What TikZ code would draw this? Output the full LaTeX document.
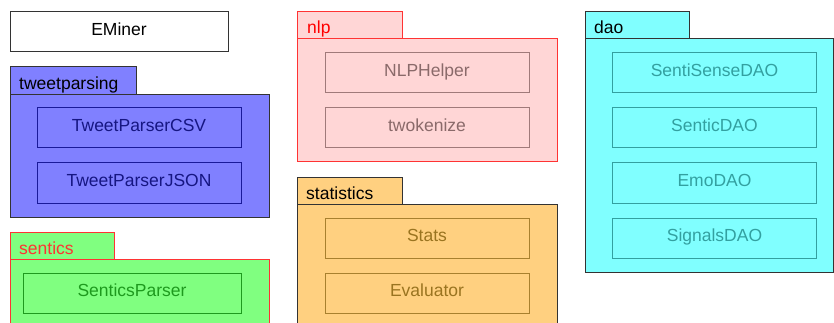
\documentclass[tikz,border=0pt]{standalone}
\usepackage{fontspec}
\setmainfont{Liberation Sans}
\definecolor{blueFill}{HTML}{8080FF}
\definecolor{blueIn}{HTML}{1A1A99}
\definecolor{greenFill}{HTML}{80FF80}
\definecolor{greenIn}{HTML}{1E9A1E}
\definecolor{pinkFill}{HTML}{FFD6D6}
\definecolor{pinkIn}{HTML}{A07A7A}
\definecolor{pinkTxt}{HTML}{8A6A6A}
\definecolor{orFill}{HTML}{FFD080}
\definecolor{orIn}{HTML}{A8802E}
\definecolor{orTxt}{HTML}{9A7420}
\definecolor{cyFill}{HTML}{80FFFF}
\definecolor{cyIn}{HTML}{33A0A0}
\definecolor{redLine}{HTML}{FF3333}
\definecolor{darkLine}{HTML}{333333}
\tikzset{
  every node/.style={font=\fontsize{17.5}{20}\selectfont, inner sep=0pt},
  pkgtab/.style={draw=#1, line width=1pt},
  pkgbody/.style={draw=#1, line width=1pt},
  cls/.style={draw=#1, line width=1pt, minimum width=204pt, minimum height=40pt, text=#1, text height=12.5pt, text depth=5pt},
  tablabel/.style={anchor=base west, text=#1},
}
\begin{document}
\begin{tikzpicture}[x=1pt,y=-1pt]
\useasboundingbox (0,0) rectangle (834,323);
% EMiner
\node[draw=darkLine, line width=1pt, fill=white, minimum width=218pt, minimum height=40pt, text height=12.5pt, text depth=5pt] (eminer) at (119,32) {EMiner};
% tweetparsing
\filldraw[pkgtab=darkLine, fill=blueFill] (10,67) rectangle (136,95);
\filldraw[pkgbody=darkLine, fill=blueFill] (10,95) rectangle (269,217);
\node[tablabel=black] (tptab) at (19,90) {tweetparsing};
\node[cls=blueIn, text=blueIn!85!black] (csv) at (139,128) {TweetParserCSV};
\node[cls=blueIn, text=blueIn!85!black] (json) at (139,183) {TweetParserJSON};
% sentics
\filldraw[pkgtab=redLine, fill=greenFill] (10,232) rectangle (114,259);
\filldraw[pkgbody=redLine, fill=greenFill] (10,259) rectangle (269,330);
\node[tablabel=redLine] (setab) at (19,254) {sentics};
\node[cls=greenIn, minimum width=218pt] (sp) at (132,293) {SenticsParser};
% nlp
\filldraw[pkgtab=redLine, fill=pinkFill] (297,12) rectangle (402,39);
\filldraw[pkgbody=redLine, fill=pinkFill] (297,39) rectangle (557,162);
\node[tablabel=red] (nlptab) at (307,34) {nlp};
\node[cls=pinkIn, text=pinkTxt] (nlph) at (427,73) {NLPHelper};
\node[cls=pinkIn, text=pinkTxt] (twok) at (427,128) {twokenize};
% statistics
\filldraw[pkgtab=darkLine, fill=orFill] (297,177) rectangle (402,204);
\filldraw[pkgbody=darkLine, fill=orFill] (297,204) rectangle (557,330);
\node[tablabel=black] (sttab) at (306,199) {statistics};
\node[cls=orIn, text=orTxt] (stats) at (427,238) {Stats};
\node[cls=orIn, text=orTxt] (eval) at (427,293) {Evaluator};
% dao
\filldraw[pkgtab=darkLine, fill=cyFill] (585,12) rectangle (689,39);
\filldraw[pkgbody=darkLine, fill=cyFill] (585,39) rectangle (833,272);
\node[tablabel=black] (daotab) at (594,34) {dao};
\node[cls=cyIn] (ss) at (714.5,73) {SentiSenseDAO};
\node[cls=cyIn] (sd) at (714.5,128) {SenticDAO};
\node[cls=cyIn] (ed) at (714.5,183) {EmoDAO};
\node[cls=cyIn] (sg) at (714.5,238) {SignalsDAO};
\end{tikzpicture}
\end{document}
